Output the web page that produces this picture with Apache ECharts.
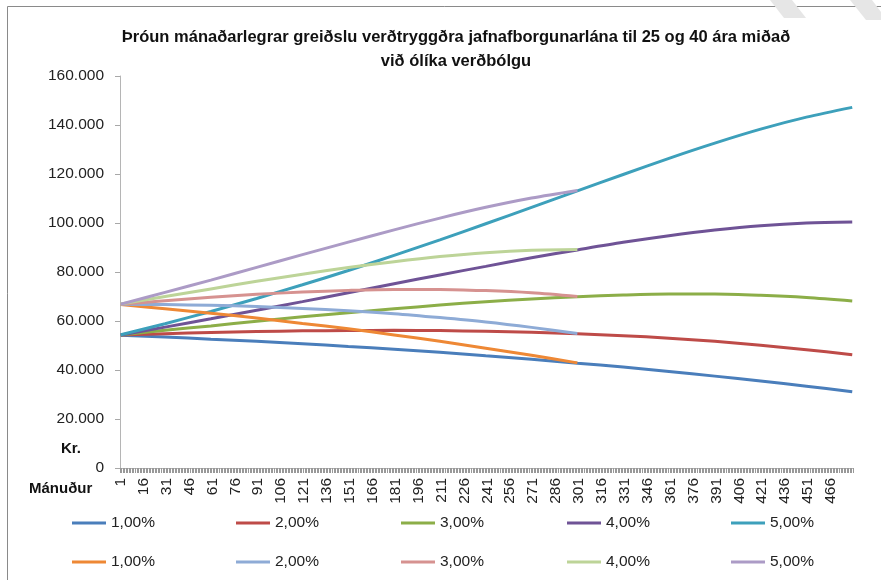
<!DOCTYPE html>
<html><head><meta charset="utf-8">
<script src="https://cdn.jsdelivr.net/npm/echarts@6/dist/echarts.min.js"></script>
<style>html,body{margin:0;padding:0;background:#fff}#c{width:881px;height:580px}</style>
</head><body><div id="c"></div>
<script>
// x-axis categories: months 1..480
const categories = Array.from({length: 480}, (_, k) => String(k + 1));
const rateLabels = ['1,00%', '2,00%', '3,00%', '4,00%', '5,00%'];

const months40 = [1, 30, 60, 90, 120, 150, 180, 210, 240, 270, 300, 330, 360, 390, 420, 450, 480];
const months25 = [1, 30, 60, 90, 120, 150, 180, 210, 240, 270, 300];

// 40-year loans (kr.)
const loan40_1 = [54200, 53500, 52600, 51700, 50700, 49600, 48500, 47200, 45800, 44400, 42800, 41200, 39400, 37500, 35500, 33400, 31100];
const loan40_2 = [54300, 54800, 55300, 55700, 56000, 56100, 56200, 56100, 55800, 55400, 54800, 54000, 53000, 51700, 50100, 48300, 46200];
const loan40_3 = [54300, 56200, 58000, 59900, 61700, 63400, 65000, 66500, 67900, 69000, 69900, 70600, 71000, 71000, 70500, 69600, 68200];
const loan40_4 = [54300, 57500, 60900, 64400, 67900, 71500, 75200, 78800, 82300, 85800, 89000, 92100, 94800, 97100, 98900, 100000, 100400];
const loan40_5 = [54400, 58900, 63900, 69200, 74800, 80600, 86800, 93100, 99700, 106400, 113100, 119800, 126400, 132600, 138300, 143200, 147200];

// 25-year loans (kr.)
const loan25_1 = [66700, 65000, 63200, 61200, 59000, 56800, 54300, 51700, 48900, 46000, 42900];
const loan25_2 = [66800, 66700, 66400, 65900, 65100, 64200, 63000, 61400, 59600, 57400, 54900];
const loan25_3 = [66800, 68300, 69700, 70900, 71800, 72500, 72900, 72900, 72400, 71500, 70000];
const loan25_4 = [66900, 70000, 73100, 76200, 79100, 81800, 84200, 86300, 87900, 88900, 89200];
const loan25_5 = [66900, 71700, 76700, 81900, 87100, 92200, 97200, 102000, 106400, 110200, 113300];

const yTicks = [0, 20000, 40000, 60000, 80000, 100000, 120000, 140000, 160000];

const loans40 = [loan40_1, loan40_2, loan40_3, loan40_4, loan40_5];
const loans25 = [loan25_1, loan25_2, loan25_3, loan25_4, loan25_5];
const colors40 = ['#4A7EBB', '#BE4B48', '#8CAE48', '#6F5396', '#3DA0BB'];
const colors25 = ['#EE8835', '#8EABD6', '#D69290', '#BDD498', '#AC9BC6'];

const FONT = 'Liberation Sans';
const series = [];
const legends = [];
const colX = [72, 236, 401, 567, 731];
const rowTop = [515, 554];

function pairs(months, vals) { return months.map((m, k) => [String(m), vals[k]]); }

loans40.forEach((vals, i) => {
  const name = 'A ' + rateLabels[i];
  series.push({
    name, type: 'line', data: pairs(months40, vals), smooth: 0.3,
    symbol: 'none', lineStyle: {width: 3, color: colors40[i]}, itemStyle: {color: colors40[i]}, z: 2
  });
  legends.push({data: [name], left: colX[i], top: rowTop[0]});
});
loans25.forEach((vals, i) => {
  const name = 'B ' + rateLabels[i];
  series.push({
    name, type: 'line', data: pairs(months25, vals), smooth: 0.3,
    symbol: 'none', lineStyle: {width: 3, color: colors25[i]}, itemStyle: {color: colors25[i]}, z: 3
  });
  legends.push({data: [name], left: colX[i], top: rowTop[1]});
});

const legendCommon = {
  orient: 'horizontal', icon: 'rect', itemWidth: 34, itemHeight: 3, padding: 0,
  selectedMode: false, formatter: n => n.slice(2),
  textStyle: {fontFamily: FONT, fontSize: 15.5, color: '#222'}
};

const chart = echarts.init(document.getElementById('c'), null, {renderer: 'canvas'});
chart.setOption({
  animation: false,
  backgroundColor: '#fff',
  title: {
    text: 'Þróun mánaðarlegrar greiðslu verðtryggðra jafnafborgunarlána til 25 og 40 ára miðað\nvið ólíka verðbólgu',
    left: 451, top: 20, textAlign: 'center',
    textStyle: {fontFamily: FONT, fontSize: 16.5, fontWeight: 'bold', color: '#111', lineHeight: 24}
  },
  grid: {left: 120, right: 28, top: 76, bottom: 112, containLabel: false},
  xAxis: {
    type: 'category', data: categories, boundaryGap: true,
    axisLine: {lineStyle: {color: '#B5B5B5', width: 1}},
    axisTick: {show: true, interval: 0, length: 5, lineStyle: {color: '#999999', width: 1}},
    axisLabel: {interval: 14, rotate: 90, margin: 10, fontFamily: FONT, fontSize: 15.5, color: '#222'},
    splitLine: {show: false}
  },
  yAxis: {
    type: 'value', min: yTicks[0], max: yTicks[yTicks.length - 1], interval: 20000,
    axisLine: {show: true, lineStyle: {color: '#B5B5B5'}},
    axisTick: {show: true, length: 5, lineStyle: {color: '#A8A8A8'}},
    axisLabel: {margin: 16, fontFamily: FONT, fontSize: 15.5, color: '#222',
      formatter: v => v === 0 ? '0' : (v / 1000) + '.000'},
    splitLine: {show: false}
  },
  legend: legends.map(l => Object.assign({}, legendCommon, l)),
  series,
  graphic: [
    {type: 'rect', shape: {x: 7.5, y: 6.5, width: 900, height: 600}, style: {fill: 'none', stroke: '#8A8A8A', lineWidth: 1}, silent: true, z: -10},
    {type: 'polygon', shape: {points: [[770, 0], [792, 0], [806, 18], [784, 18]]}, style: {fill: '#E6E6E6'}, silent: true, z: -5},
    {type: 'polygon', shape: {points: [[850, 0], [872, 0], [881, 12], [881, 20], [866, 20]]}, style: {fill: '#E6E6E6'}, silent: true, z: -5},
    {type: 'text', left: 61, top: 441, style: {text: 'Kr.', fontFamily: FONT, fontSize: 15, fontWeight: 'bold', fill: '#111'}},
    {type: 'text', left: 29, top: 481, style: {text: 'Mánuður', fontFamily: FONT, fontSize: 15, fontWeight: 'bold', fill: '#111'}}
  ]
});
</script>
</body></html>
